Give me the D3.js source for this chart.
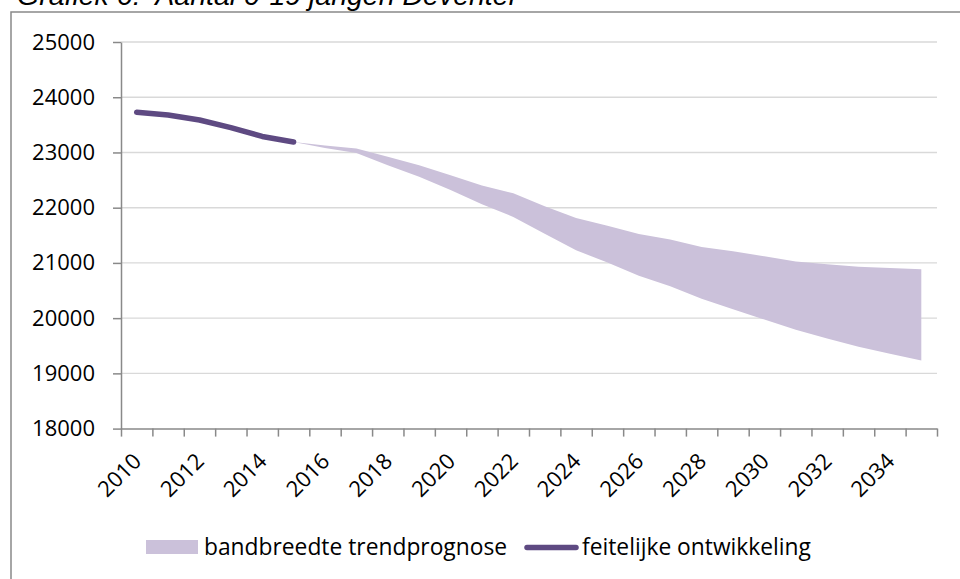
<!DOCTYPE html>
<html>
<head>
<meta charset="utf-8">
<script src="https://cdn.jsdelivr.net/npm/d3@7"></script>
<style>
  html, body { margin: 0; padding: 0; background: #fff; }
  svg { display: block; }
</style>
</head>
<body>
<svg id="chart" width="960" height="579"></svg>
<script>
// ---- data ----
const years = d3.range(2010, 2036);
const tickLabelYears = [2010, 2012, 2014, 2016, 2018, 2020, 2022, 2024, 2026, 2028, 2030, 2032, 2034];
const yTicks = [18000, 19000, 20000, 21000, 22000, 23000, 24000, 25000];

const actualYears = [2010, 2011, 2012, 2013, 2014, 2015];
const actualValues = [23727, 23678, 23588, 23449, 23290, 23190];

const bandYears = [2015, 2016, 2017, 2018, 2019, 2020, 2021, 2022, 2023, 2024, 2025,
                   2026, 2027, 2028, 2029, 2030, 2031, 2032, 2033, 2034, 2035];
const bandUpper = [23190, 23127, 23073, 22921, 22770, 22588, 22400, 22260, 22028, 21812, 21674,
                   21525, 21426, 21289, 21210, 21120, 21025, 20975, 20930, 20907, 20887];
const bandLower = [23190, 23082, 22990, 22770, 22558, 22320, 22060, 21833, 21530, 21228, 21008,
                   20766, 20578, 20350, 20162, 19975, 19790, 19630, 19482, 19355, 19235];

const titleText = "Grafiek 6:  Aantal 0-19 jarigen Deventer";
const legendBand = "bandbreedte trendprognose";
const legendLine = "feitelijke ontwikkeling";

// ---- layout ----
const svg = d3.select("#chart");
const plotL = 121, plotR = 937, plotT = 42, plotB = 428.6;
const bandColor = "#cbc1da";
const lineColor = "#5e4a82";
const axisColor = "#898989";
const gridColor = "#d9d9d9";
const font = "'Open Sans', 'Liberation Sans', sans-serif";

// outer frame
svg.append("rect")
  .attr("x", 11).attr("y", 12).attr("width", 1000).attr("height", 1000)
  .attr("fill", "none").attr("stroke", axisColor).attr("stroke-width", 1.5);

// title
svg.append("text")
  .attr("x", 17).attr("y", 5)
  .attr("font-family", "'Liberation Sans', Arial, sans-serif")
  .attr("font-style", "italic")
  .attr("font-size", 28.5)
  .attr("fill", "#000")
  .style("white-space", "pre")
  .text(titleText);

// scales
const x = d3.scaleBand().domain(years).range([plotL, plotR]).paddingInner(0).paddingOuter(0);
const xc = d => x(d) + x.bandwidth() / 2;
const xIdx = d3.scaleLinear().domain([0, years.length]).range([plotL, plotR]);
const y = d3.scaleLinear().domain([18000, 25000]).range([plotB, plotT]);

// gridlines
svg.append("g").selectAll("line")
  .data(yTicks.filter(v => v !== 18000))
  .join("line")
  .attr("x1", plotL).attr("x2", plotR)
  .attr("y1", d => y(d)).attr("y2", d => y(d))
  .attr("stroke", gridColor).attr("stroke-width", 1.4);

// band
const bandData = bandYears.map((yr, i) => ({ yr, lo: bandLower[i], hi: bandUpper[i] }));
svg.append("path")
  .datum(bandData)
  .attr("fill", bandColor)
  .attr("d", d3.area().x(d => xc(d.yr)).y0(d => y(d.lo)).y1(d => y(d.hi)));

// actual line
const lineData = actualYears.map((yr, i) => ({ yr, v: actualValues[i] }));
svg.append("path")
  .datum(lineData)
  .attr("fill", "none")
  .attr("stroke", lineColor)
  .attr("stroke-width", 5.5)
  .attr("stroke-linecap", "round")
  .attr("stroke-linejoin", "round")
  .attr("d", d3.line().x(d => xc(d.yr)).y(d => y(d.v)));

// y axis
const yAxis = svg.append("g")
  .attr("transform", `translate(${plotL},0)`)
  .call(d3.axisLeft(y).tickValues(yTicks).tickFormat(d3.format("d")).tickSize(8).tickPadding(18).tickSizeOuter(0));
yAxis.select(".domain").attr("stroke", axisColor).attr("stroke-width", 1.5);
yAxis.selectAll(".tick line").attr("stroke", axisColor).attr("stroke-width", 1.5);
yAxis.selectAll(".tick text")
  .attr("font-family", font).attr("font-size", 22).attr("fill", "#000");

// x axis (ticks at category boundaries)
const xAxis = svg.append("g")
  .attr("transform", `translate(0,${plotB})`)
  .call(d3.axisBottom(xIdx).tickValues(d3.range(years.length + 1)).tickFormat("").tickSize(8).tickSizeOuter(0));
xAxis.select(".domain").attr("stroke", axisColor).attr("stroke-width", 1.5);
xAxis.selectAll(".tick line").attr("stroke", axisColor).attr("stroke-width", 1.5);

// x tick labels, rotated
svg.append("g").selectAll("text")
  .data(tickLabelYears)
  .join("text")
  .attr("transform", d => `translate(${xc(d) + 6},${plotB + 34}) rotate(-45)`)
  .attr("text-anchor", "end")
  .attr("font-family", font).attr("font-size", 22).attr("fill", "#000")
  .text(d => d);

// legend
const lg = svg.append("g");
lg.append("rect")
  .attr("x", 146).attr("y", 540).attr("width", 52).attr("height", 14)
  .attr("fill", bandColor);
lg.append("text")
  .attr("x", 204).attr("y", 555)
  .attr("font-family", font).attr("font-size", 22.8).attr("fill", "#000")
  .text(legendBand);
lg.append("line")
  .attr("x1", 527).attr("x2", 576).attr("y1", 547.5).attr("y2", 547.5)
  .attr("stroke", lineColor).attr("stroke-width", 5.5).attr("stroke-linecap", "round");
lg.append("text")
  .attr("x", 582).attr("y", 555)
  .attr("font-family", font).attr("font-size", 22.8).attr("fill", "#000")
  .text(legendLine);
</script>
</body>
</html>
